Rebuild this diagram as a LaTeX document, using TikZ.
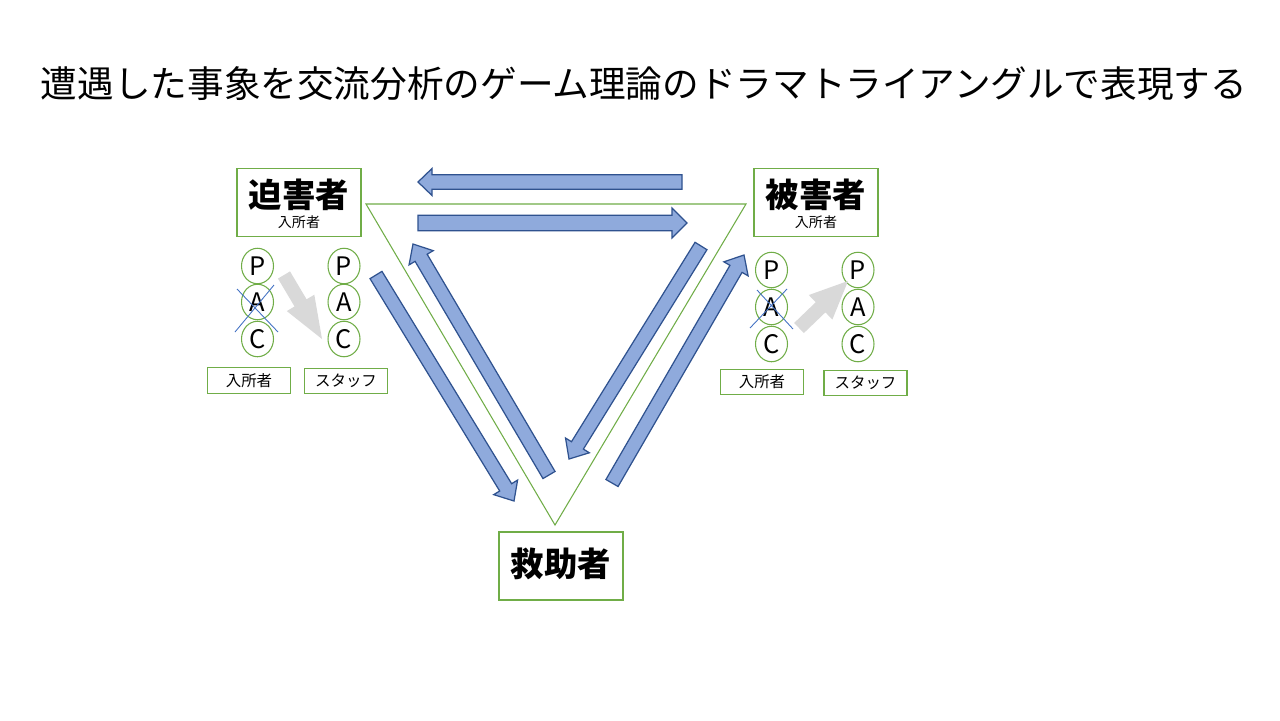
\documentclass[tikz,border=0pt]{standalone}
\usepackage{fontspec}
\setmainfont{Noto Sans CJK JP}
\usetikzlibrary{calc,shapes.geometric}
\definecolor{boxgreen}{HTML}{70AD47}
\definecolor{arrfill}{HTML}{8FAADC}
\definecolor{arrline}{HTML}{2F528F}
\definecolor{graya}{HTML}{D9D9D9}
\definecolor{crossblue}{HTML}{4472C4}
\newcommand\blockarrow[6]{%
  \coordinate (ba-h) at ($(#3)!#6!(#2)$);
  \filldraw[#1] ($(#2)!#4!90:(#3)$) -- ($(ba-h)!#4!90:(#3)$) -- ($(ba-h)!#5!90:(#3)$) -- (#3)
    -- ($(ba-h)!#5!-90:(#3)$) -- ($(ba-h)!#4!-90:(#3)$) -- ($(#2)!#4!-90:(#3)$) -- cycle;
}
\tikzset{
  rolebox/.style={draw=boxgreen, line width=0.6pt, minimum width=2.48cm, minimum height=1.36cm, inner sep=0pt},
  rolename/.style={font=\fontsize{19pt}{19pt}\selectfont\bfseries, inner sep=0pt},
  rolesub/.style={font=\fontsize{8pt}{8pt}\selectfont, inner sep=0pt},
  egostate/.style={ellipse, draw=boxgreen, line width=0.6pt, minimum width=0.64cm, minimum height=0.71cm, inner sep=0pt, font=\fontsize{14.5pt}{14.5pt}\selectfont},
  labbox/.style={draw=boxgreen, line width=0.6pt, minimum width=1.66cm, minimum height=0.51cm, inner sep=0pt, font=\fontsize{8.8pt}{9pt}\selectfont},
  blue arrow/.style={fill=arrfill, draw=arrline, line width=0.7pt, line join=miter},
  gray arrow/.style={fill=graya, draw=none},
  crossline/.style={draw=crossblue, line width=0.5pt},
  tri/.style={draw=boxgreen, line width=0.6pt}
}
\begin{document}
\begin{tikzpicture}[x=0.02cm, y=-0.02cm]
\useasboundingbox (0,0) rectangle (1280,720);
\fill[white] (0,0) rectangle (1280,720);

% title
\node[inner sep=0pt, font=\fontsize{20.85pt}{21pt}\selectfont] (title) at (644,84) {遭遇した事象を交流分析のゲーム理論のドラマトライアングルで表現する};

% triangle
\coordinate (tl) at (366,204);
\coordinate (tr) at (746,204);
\coordinate (tb) at (555,525);
\draw[tri] (tl) -- (tr) -- (tb) -- cycle;

% role boxes
\node[rolebox] (persec) at (299,202.5) {};
\node[rolename] (persecname) at (299,194.5) {迫害者};
\node[rolesub] (persecsub) at (299,222) {入所者};

\node[rolebox] (victim) at (816,202.5) {};
\node[rolename] (victimname) at (816,194.5) {被害者};
\node[rolesub] (victimsub) at (816,222) {入所者};

\node[rolebox] (rescuer) at (561,566) {};
\node[rolename] (rescuername) at (561,564) {救助者};

% left PAC
\node[egostate] (lp1) at (257.5,266) {P};
\node[egostate] (la1) at (257.5,302) {A};
\node[egostate] (lc1) at (257.5,339) {C};
\node[egostate] (lp2) at (344,266) {P};
\node[egostate] (la2) at (344,302) {A};
\node[egostate] (lc2) at (344,339) {C};
\node[labbox] (llab1) at (249,380.5) {入所者};
\node[labbox] (llab2) at (346,381) {スタッフ};

% right PAC
\node[egostate] (rp1) at (771.5,270) {P};
\node[egostate] (ra1) at (771.5,307) {A};
\node[egostate] (rc1) at (771.5,344) {C};
\node[egostate] (rp2) at (858,270) {P};
\node[egostate] (ra2) at (858,307) {A};
\node[egostate] (rc2) at (858,344) {C};
\node[labbox] (rlab1) at (762,382) {入所者};
\node[labbox] (rlab2) at (865.5,383) {スタッフ};

% crosses over A
\coordinate (lx1) at (237,289);
\coordinate (lx2) at (278,332);
\coordinate (lx3) at (235,332);
\coordinate (lx4) at (274,285);
\draw[crossline] (lx1) -- (lx2);
\draw[crossline] (lx3) -- (lx4);
\coordinate (rx1) at (757,290);
\coordinate (rx2) at (793,329);
\coordinate (rx3) at (750,328);
\coordinate (rx4) at (787,289);
\draw[crossline] (rx1) -- (rx2);
\draw[crossline] (rx3) -- (rx4);

% gray arrows
\coordinate (lgt) at (284,275);
\coordinate (lgh) at (322,339);
\blockarrow{gray arrow}{lgt}{lgh}{0.14cm}{0.32cm}{0.84cm}
\coordinate (rgt) at (799,328);
\coordinate (rgh) at (848,281);
\blockarrow{gray arrow}{rgt}{rgh}{0.14cm}{0.34cm}{0.76cm}

% blue arrows
\coordinate (b1t) at (682,182);
\coordinate (b1h) at (418,182);
\blockarrow{blue arrow}{b1t}{b1h}{0.145cm}{0.27cm}{0.28cm}
\coordinate (b2t) at (418,223);
\coordinate (b2h) at (687,223);
\blockarrow{blue arrow}{b2t}{b2h}{0.155cm}{0.3cm}{0.3cm}
\coordinate (b3t) at (376,275);
\coordinate (b3h) at (514,501);
\blockarrow{blue arrow}{b3t}{b3h}{0.14cm}{0.28cm}{0.32cm}
\coordinate (b4t) at (549,475);
\coordinate (b4h) at (413,244);
\blockarrow{blue arrow}{b4t}{b4h}{0.14cm}{0.28cm}{0.32cm}
\coordinate (b5t) at (701,246);
\coordinate (b5h) at (569,459);
\blockarrow{blue arrow}{b5t}{b5h}{0.14cm}{0.28cm}{0.32cm}
\coordinate (b6t) at (612,483);
\coordinate (b6h) at (744,255);
\blockarrow{blue arrow}{b6t}{b6h}{0.14cm}{0.28cm}{0.32cm}
\end{tikzpicture}
\end{document}
